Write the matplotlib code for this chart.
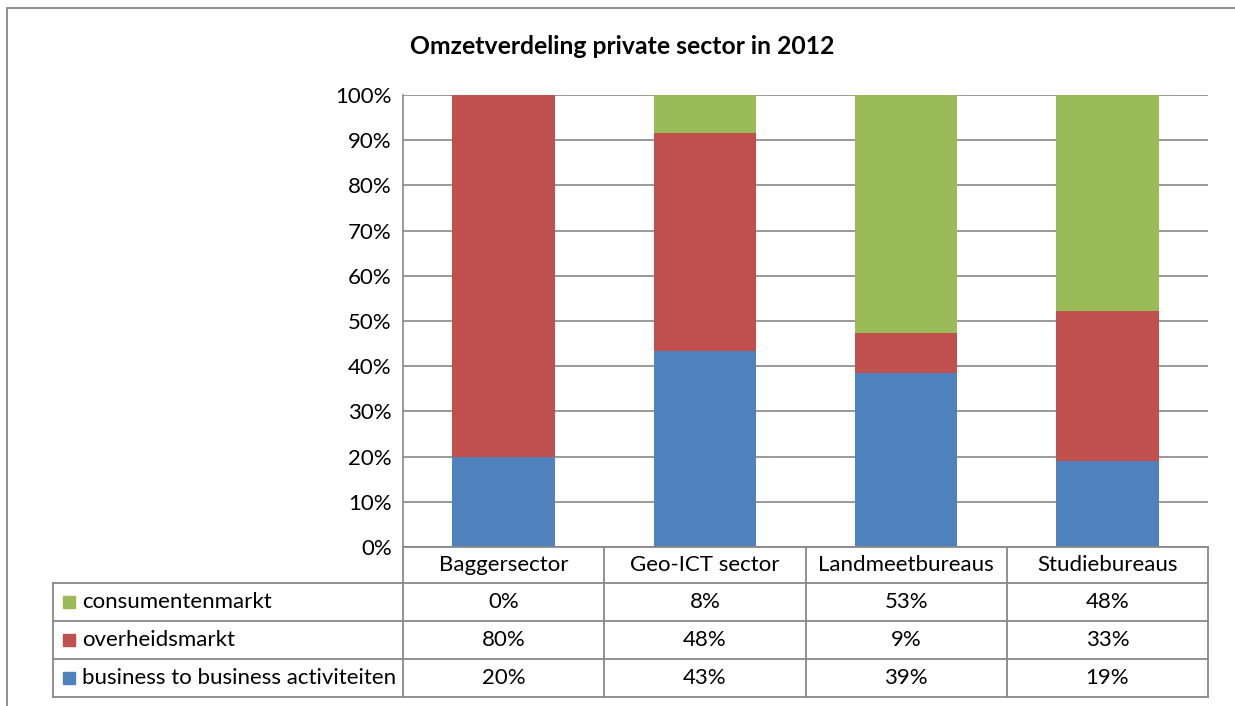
import numpy as np
import matplotlib.pyplot as plt
from matplotlib.patches import Rectangle
from matplotlib.lines import Line2D

plt.rcParams['font.family'] = ['Lato', 'DejaVu Sans']

title = "Omzetverdeling private sector in 2012"
categories = ["Baggersector", "Geo-ICT sector", "Landmeetbureaus", "Studiebureaus"]
series_names = ["business to business activiteiten", "overheidsmarkt", "consumentenmarkt"]
b2b = [20.0, 43.4, 38.6, 19.0]
overheid = [80.0, 48.3, 8.8, 33.2]
consument = [0.0, 8.3, 52.6, 47.8]
colors = ["#4F81BD", "#C0504D", "#9BBB59"]
yticks = list(range(0, 101, 10))

W, H = 1235, 706
fig = plt.figure(figsize=(W/100, H/100), dpi=100)

# helpers to place things in pixel units of the figure
def fx(px):
    return px / W
def fy(py):
    return 1 - py / H

gray = '#888888'
fs = 16

# outer chart frame (runs off the right and bottom edge like the screenshot)
fig.patches.append(Rectangle((fx(7), fy(740)), fx(1280)-fx(7), fy(8)-fy(740),
                             transform=fig.transFigure, fill=False, edgecolor=gray, lw=1.3))

left, right, top, bot = 403, 1208, 95, 547
ax = fig.add_axes([fx(left), fy(bot), fx(right)-fx(left), fy(top)-fy(bot)])
x = np.arange(len(categories))
bottom = np.zeros(len(categories))
for vals, col in zip([b2b, overheid, consument], colors):
    ax.bar(x, vals, 0.51, bottom=bottom, color=col, zorder=3)
    bottom += np.array(vals)
ax.set_xlim(-0.5, len(categories)-0.5)
ax.set_ylim(0, 100)
ax.set_yticks(yticks)
ax.set_yticklabels([f"{t}%" for t in yticks], fontsize=fs)
ax.tick_params(axis='y', length=0, pad=8)
ax.set_xticks([])
ax.grid(axis='y', color=gray, lw=1.2, zorder=0)
for s in ['top', 'right', 'bottom']:
    ax.spines[s].set_visible(False)
ax.spines['left'].set_color(gray)
ax.spines['left'].set_linewidth(1.2)

fig.text(fx(622), fy(47), title, ha='center', va='center', fontsize=17.8, fontweight='bold')

# data table under the plot
ncat = len(categories)
colw = (right - left) / ncat
col_edges = [left + i*colw for i in range(ncat+1)]
row_edges = [583, 621, 659, 697]
tleft = 53

def hline(x0, x1, y):
    fig.lines.append(Line2D([fx(x0), fx(x1)], [fy(y), fy(y)], transform=fig.transFigure, color=gray, lw=1.3))
def vline(x0, y0, y1):
    fig.lines.append(Line2D([fx(x0), fx(x0)], [fy(y0), fy(y1)], transform=fig.transFigure, color=gray, lw=1.3))

hline(left, right, bot)
for y in row_edges:
    hline(tleft, right, y)
for xe in col_edges:
    vline(xe, bot, row_edges[-1])
vline(tleft, row_edges[0], row_edges[-1])

for i, cat in enumerate(categories):
    fig.text(fx(col_edges[i] + colw/2), fy((bot + row_edges[0])/2), cat,
             ha='center', va='center', fontsize=fs)

table_rows = list(zip(series_names, [b2b, overheid, consument], colors))[::-1]
for r, (name, vals, col) in enumerate(table_rows):
    yc = (row_edges[r] + row_edges[r+1]) / 2
    fig.patches.append(Rectangle((fx(63), fy(yc+6)), fx(75)-fx(63), fy(yc-6)-fy(yc+6),
                                 transform=fig.transFigure, color=col))
    fig.text(fx(82), fy(yc), name, ha='left', va='center', fontsize=fs)
    for i, v in enumerate(vals):
        fig.text(fx(col_edges[i] + colw/2), fy(yc), f"{round(v)}%",
                 ha='center', va='center', fontsize=fs)

fig.savefig("out.png", dpi=100)
